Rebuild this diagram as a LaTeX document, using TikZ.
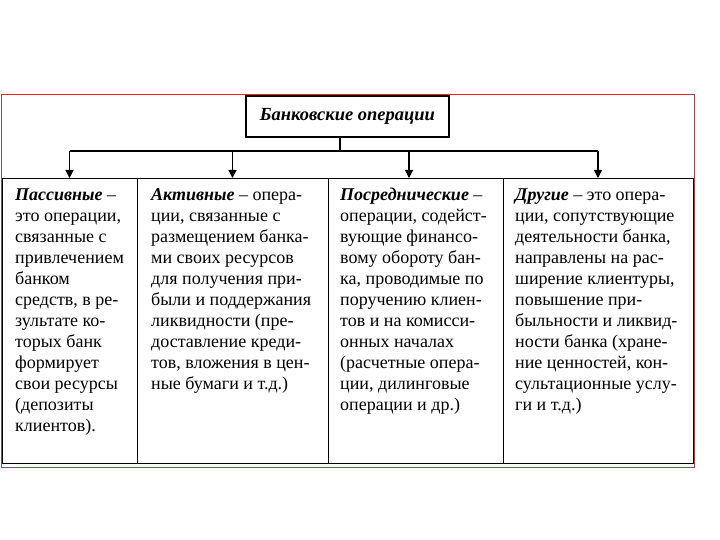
\documentclass[tikz,border=0pt]{standalone}
\usepackage{fontspec}
\setmainfont{Liberation Serif}
\usetikzlibrary{arrows.meta}
\definecolor{framered}{RGB}{176,64,72}
\tikzset{
  cellbox/.style={draw=black, line width=1.1pt, anchor=north west, inner sep=0pt},
  celltext/.style={anchor=north west, inner sep=0pt, align=left, font=\fontsize{18}{21}\selectfont},
  titlebox/.style={draw=black, line width=1.1pt, inner sep=0pt, minimum width=203pt, minimum height=41pt, font=\fontsize{18.5}{21}\selectfont\bfseries\itshape},
  conn/.style={draw=black, line width=1.1pt},
  arr/.style={conn, -{Triangle[width=8pt,length=8pt]}}
}
\begin{document}
\begin{tikzpicture}[x=1pt,y=-1pt]
\useasboundingbox (0,0) rectangle (720,540);
% outer frame
\draw[framered, line width=0.8pt] (1,94) rectangle (694,467);
% title
\node[titlebox] (title) at (347.5,116.5) {Банковские операции};
% table cells
\node[cellbox, minimum width=135pt, minimum height=285pt] (c1) at (2,178) {};
\node[cellbox, minimum width=191pt, minimum height=285pt] (c2) at (137,178) {};
\node[cellbox, minimum width=175pt, minimum height=285pt] (c3) at (328,178) {};
\node[cellbox, minimum width=190pt, minimum height=285pt] (c4) at (503,178) {};
% connectors
\coordinate (j) at (340,151);
\coordinate (hl) at (69.5,151);
\coordinate (hr) at (598,151);
\coordinate (a1) at (69.5,151);
\coordinate (a2) at (232.5,151);
\coordinate (a3) at (409,151);
\coordinate (a4) at (598,151);
\draw[conn] (title.south -| j) -- (j);
\draw[conn] (hl) -- (hr);
\draw[arr] (a1) -- (a1 |- c1.north);
\draw[arr] (a2) -- (a2 |- c2.north);
\draw[arr] (a3) -- (a3 |- c3.north);
\draw[arr] (a4) -- (a4 |- c4.north);
% texts
\node[celltext] (t1) at (15,186) {\strut\textbf{\textit{Пассивные}} –\\
это операции,\\
связанные с\\
привлечением\\
банком\\
средств, в ре-\\
зультате ко-\\
торых банк\\
формирует\\
свои ресурсы\\
(депозиты\\
клиентов).};
\node[celltext] (t2) at (151,186) {\strut\textbf{\textit{Активные}} – опера-\\
ции, связанные с\\
размещением банка-\\
ми своих ресурсов\\
для получения при-\\
были и поддержания\\
ликвидности (пре-\\
доставление креди-\\
тов, вложения в цен-\\
ные бумаги и т.д.)};
\node[celltext] (t3) at (340,186) {\strut\textbf{\textit{Посреднические}} –\\
операции, содейст-\\
вующие финансо-\\
вому обороту бан-\\
ка, проводимые по\\
поручению клиен-\\
тов и на комисси-\\
онных началах\\
(расчетные опера-\\
ции, дилинговые\\
операции и др.)};
\node[celltext] (t4) at (515,186) {\strut\textbf{\textit{Другие}} – это опера-\\
ции, сопутствующие\\
деятельности банка,\\
направлены на рас-\\
ширение клиентуры,\\
повышение при-\\
быльности и ликвид-\\
ности банка (хране-\\
ние ценностей, кон-\\
сультационные услу-\\
ги и т.д.)};
\end{tikzpicture}
\end{document}
